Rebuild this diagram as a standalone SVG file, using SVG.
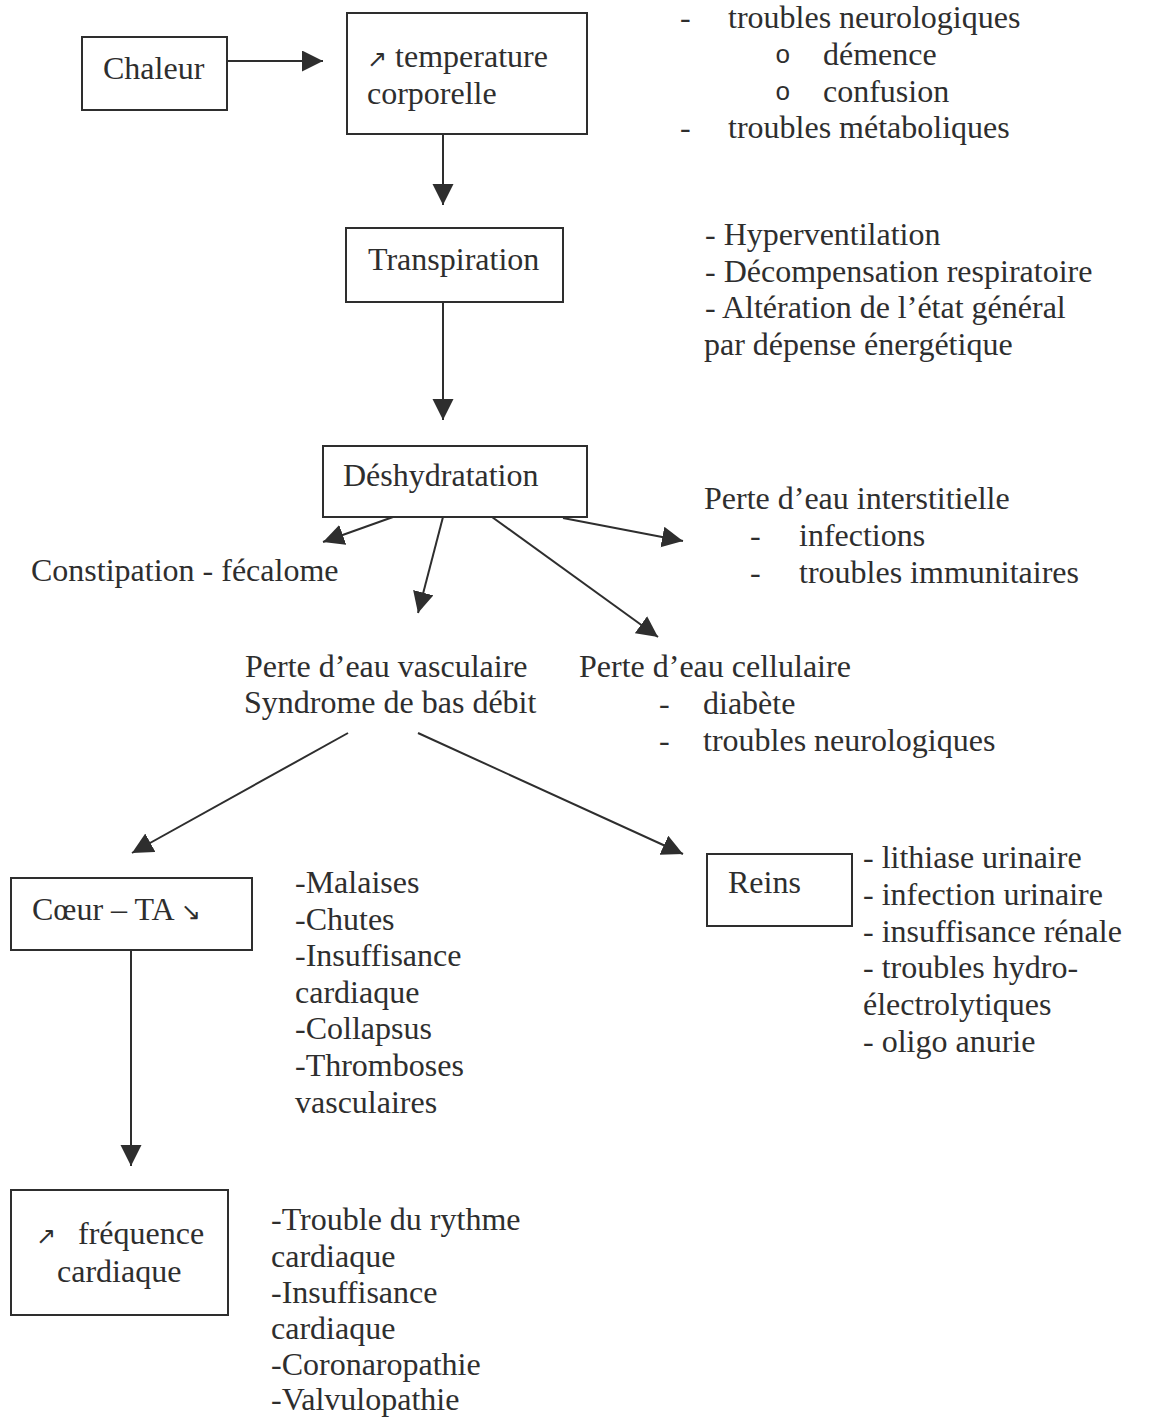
<svg xmlns="http://www.w3.org/2000/svg" width="1161" height="1418" viewBox="0 0 1161 1418">
  <style>
    text { font-family: "Liberation Serif", "Times New Roman", "DejaVu Serif", serif; font-size: 32px; fill: #2e2e2e; }
    .box { fill: #ffffff; stroke: #2e2e2e; stroke-width: 2; }
    .link { stroke: #2e2e2e; stroke-width: 2; fill: none; marker-end: url(#head); }
    .sym { font-family: "DejaVu Sans", sans-serif; font-size: 24px; }
    .bul { font-family: "Liberation Mono", monospace; font-size: 26px; }
  </style>
  <defs>
    <marker id="head" markerUnits="userSpaceOnUse" markerWidth="22" markerHeight="22" refX="21" refY="10.5" orient="auto">
      <path d="M0,0 L21,10.5 L0,21 Z" fill="#2e2e2e"/>
    </marker>
  </defs>
  <rect width="1161" height="1418" fill="#ffffff"/>

  <!-- connectors -->
  <g id="connectors">
    <line class="link" x1="227" y1="61" x2="323" y2="61"/>
    <line class="link" x1="443" y1="134" x2="443" y2="205"/>
    <line class="link" x1="443" y1="302" x2="443" y2="420"/>
    <line class="link" x1="393" y1="517" x2="323" y2="542"/>
    <line class="link" x1="443" y1="517" x2="418" y2="613"/>
    <line class="link" x1="492" y1="517" x2="658" y2="637"/>
    <line class="link" x1="563" y1="518" x2="683" y2="541"/>
    <line class="link" x1="348" y1="733" x2="132" y2="853"/>
    <line class="link" x1="418" y1="733" x2="683" y2="854"/>
    <line class="link" x1="131" y1="950" x2="131" y2="1166"/>
  </g>

  <!-- boxed nodes -->
  <g id="chaleur">
    <rect class="box" x="82" y="37" width="145" height="73"/>
    <text x="103" y="79">Chaleur</text>
  </g>
  <g id="temperature">
    <rect class="box" x="347" y="13" width="240" height="121"/>
    <text x="367" y="67"><tspan class="sym">↗</tspan> temperature</text>
    <text x="367" y="104">corporelle</text>
  </g>
  <g id="transpiration">
    <rect class="box" x="346" y="228" width="217" height="74"/>
    <text x="368" y="270">Transpiration</text>
  </g>
  <g id="deshydratation">
    <rect class="box" x="323" y="446" width="264" height="71"/>
    <text x="343" y="486">Déshydratation</text>
  </g>
  <g id="coeur">
    <rect class="box" x="11" y="878" width="241" height="72"/>
    <text x="32" y="920">Cœur – TA <tspan class="sym">↘</tspan></text>
  </g>
  <g id="reins">
    <rect class="box" x="707" y="854" width="145" height="72"/>
    <text x="728" y="893">Reins</text>
  </g>
  <g id="frequence">
    <rect class="box" x="11" y="1190" width="217" height="125"/>
    <text x="36" y="1244"><tspan class="sym">↗</tspan><tspan x="78">fréquence</tspan></text>
    <text x="57" y="1282">cardiaque</text>
  </g>

  <!-- text nodes -->
  <g id="effets-temperature">
    <text x="680" y="28">-</text><text x="728" y="28">troubles neurologiques</text>
    <text class="bul" x="775" y="63">o</text><text x="823" y="65">démence</text>
    <text class="bul" x="775" y="100">o</text><text x="823" y="102">confusion</text>
    <text x="680" y="138">-</text><text x="728" y="138">troubles métaboliques</text>
  </g>
  <g id="effets-transpiration">
    <text x="705" y="245">- Hyperventilation</text>
    <text x="705" y="282">- Décompensation respiratoire</text>
    <text x="705" y="318">- Altération de l’état général</text>
    <text x="704" y="355">par dépense énergétique</text>
  </g>
  <g id="constipation">
    <text x="31" y="581">Constipation - fécalome</text>
  </g>
  <g id="interstitielle">
    <text x="704" y="509">Perte d’eau interstitielle</text>
    <text x="750" y="546">-</text><text x="799" y="546">infections</text>
    <text x="750" y="583">-</text><text x="799" y="583">troubles immunitaires</text>
  </g>
  <g id="vasculaire">
    <text x="245" y="677">Perte d’eau vasculaire</text>
    <text x="244" y="713">Syndrome de bas débit</text>
  </g>
  <g id="cellulaire">
    <text x="579" y="677">Perte d’eau cellulaire</text>
    <text x="659" y="714">-</text><text x="703" y="714">diabète</text>
    <text x="659" y="751">-</text><text x="703" y="751">troubles neurologiques</text>
  </g>
  <g id="effets-coeur">
    <text x="295" y="893">-Malaises</text>
    <text x="295" y="930">-Chutes</text>
    <text x="295" y="966">-Insuffisance</text>
    <text x="295" y="1003">cardiaque</text>
    <text x="295" y="1039">-Collapsus</text>
    <text x="295" y="1076">-Thromboses</text>
    <text x="295" y="1113">vasculaires</text>
  </g>
  <g id="effets-reins">
    <text x="863" y="868">- lithiase urinaire</text>
    <text x="863" y="905">- infection urinaire</text>
    <text x="863" y="942">- insuffisance rénale</text>
    <text x="863" y="978">- troubles hydro-</text>
    <text x="863" y="1015">électrolytiques</text>
    <text x="863" y="1052">- oligo anurie</text>
  </g>
  <g id="effets-frequence">
    <text x="271" y="1230">-Trouble du rythme</text>
    <text x="271" y="1267">cardiaque</text>
    <text x="271" y="1303">-Insuffisance</text>
    <text x="271" y="1339">cardiaque</text>
    <text x="271" y="1375">-Coronaropathie</text>
    <text x="271" y="1410">-Valvulopathie</text>
  </g>
</svg>
